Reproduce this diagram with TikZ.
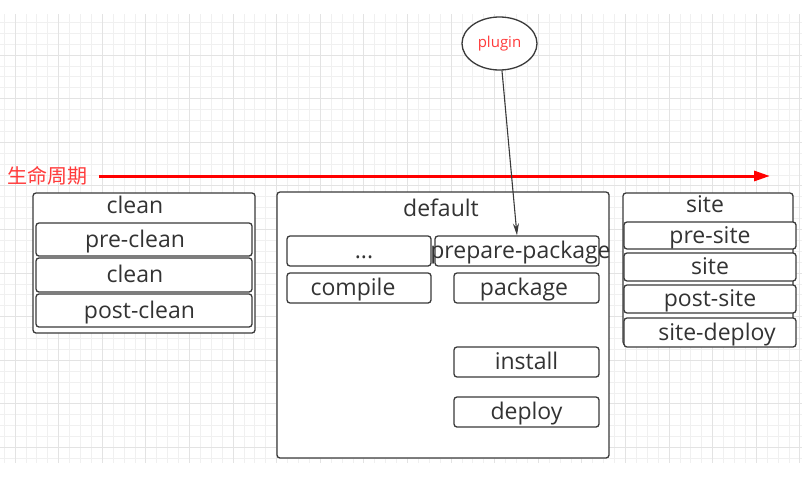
\documentclass[tikz,border=0pt]{standalone}
\usepackage{fontspec}
\setmainfont{Open Sans}
\newfontfamily\cjk{Noto Sans CJK SC}
\usetikzlibrary{arrows.meta,shapes.geometric}
\definecolor{ink}{HTML}{333333}
\definecolor{edge}{HTML}{3A3A3A}
\definecolor{gridminor}{HTML}{F0F0F0}
\definecolor{gridmajor}{HTML}{E3E3E3}
\definecolor{lifered}{HTML}{FF0000}
\definecolor{labelred}{HTML}{FF3B3B}
\tikzset{
  box/.style 2 args={draw=edge,fill=white,line width=1.3pt,rounded corners=3pt,inner sep=0pt,minimum width=#1pt,minimum height=#2pt},
  tag/.style={text=ink,font=\fontsize{23}{27}\selectfont,inner sep=0pt,text height=17pt,text depth=5pt,yshift=-1.5pt},
  title/.style={text=ink,font=\fontsize{23}{27}\selectfont,inner sep=0pt,anchor=base},
}
\begin{document}
\begin{tikzpicture}[x=1pt,y=-1pt]
\useasboundingbox (0,0) rectangle (811,482);
\fill[white] (0,0) rectangle (811,482);
%grid
\foreach \i in {0,...,73} \draw[gridminor,line width=0.8pt] (4.1+\i*10.9,14) -- (4.1+\i*10.9,463);
\foreach \j in {0,...,40} \draw[gridminor,line width=0.8pt] (0,22.3+\j*10.9) -- (802,22.3+\j*10.9);
\foreach \i in {0,...,18} \draw[gridmajor,line width=0.8pt] (15+\i*43.6,14) -- (15+\i*43.6,463);
\foreach \j in {0,...,9} \draw[gridmajor,line width=0.8pt] (0,55+\j*43.6) -- (802,55+\j*43.6);
%life cycle
\node[font=\cjk\fontsize{20}{24}\selectfont,text=labelred,inner sep=0pt,anchor=west] (life) at (7,176) {生命周期};
\coordinate (lifeend) at (770,176);
\draw[lifered,line width=3pt,-{Triangle[length=16pt,width=10pt]},shorten <=12pt] (life.east) -- (lifeend);
%clean
\node[box={222}{140}] (clean) at (144,263) {};
\node[title] (cleant) at (135,213) {clean};
\node[box={216}{33},label={[tag,xshift=-9pt]center:pre-clean}] (preclean) at (144,239.5) {};
\node[box={216}{34},label={[tag,xshift=-9pt]center:clean}] (cleanc) at (144,275) {};
\node[box={216}{33},label={[tag,xshift=-4.5pt]center:post-clean}] (postclean) at (144,310.5) {};
%default
\node[box={332}{266}] (default) at (443,325) {};
\node[title] (defaultt) at (441,216) {default};
\node[box={144}{30},label={[tag,xshift=5pt]center:...}] (dots) at (359,251) {};
\node[box={164}{30},label={[tag,xshift=3.5pt]center:prepare-package}] (prep) at (517,251) {};
\node[box={144}{30},label={[tag,xshift=-6pt]center:compile}] (compile) at (359,288) {};
\node[box={145}{30},label={[tag,xshift=-2.5pt]center:package}] (package) at (526.5,288) {};
\node[box={145}{30},label={[tag]center:install}] (install) at (526.5,362) {};
\node[box={145}{30},label={[tag]center:deploy}] (deploy) at (526.5,412) {};
%site
\node[box={170}{152}] (site) at (708,269) {};
\node[title] (sitet) at (705,212.5) {site};
\node[box={172}{27},label={[tag]center:pre-site}] (presite) at (710,235.5) {};
\node[box={172}{28},label={[tag]center:site}] (sites) at (710,267) {};
\node[box={172}{28},label={[tag]center:post-site}] (postsite) at (710,299) {};
\node[box={172}{29},label={[tag,xshift=7pt]center:site-deploy}] (sitedeploy) at (710,332.5) {};
%plugin
\node[ellipse,draw=edge,fill=white,line width=1.3pt,minimum width=75pt,minimum height=53pt,inner sep=0pt,text=labelred,font=\fontsize{15}{18}\selectfont] (plugin) at (499.5,43.5) {plugin};
\draw[edge,line width=1.1pt,-{Stealth[length=12pt,width=6pt]}] (plugin) -- (prep.north);
\end{tikzpicture}
\end{document}
